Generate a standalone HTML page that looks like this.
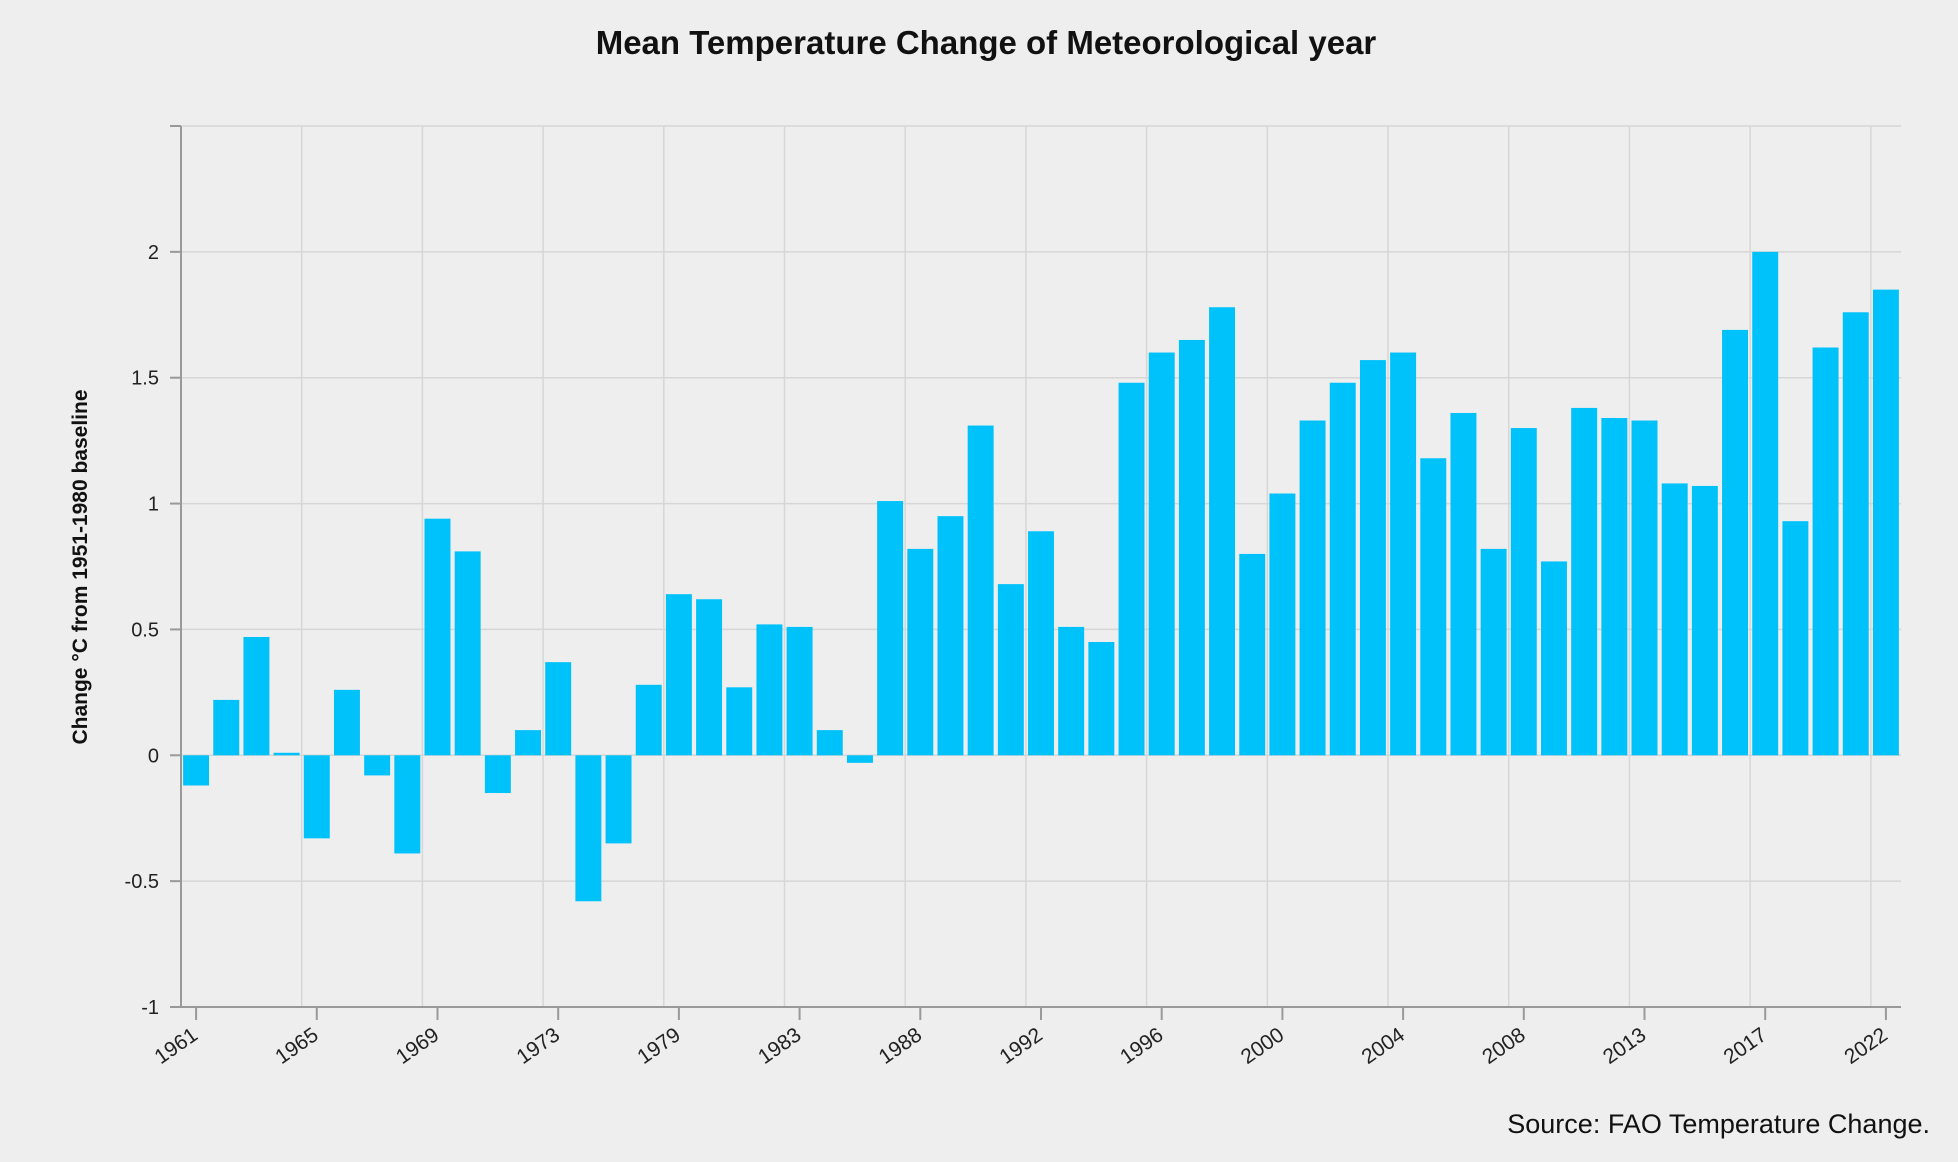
<!DOCTYPE html>
<html><head><meta charset="utf-8"><style>
body{margin:0;background:#eeeeee;}
svg{display:block;font-family:"Liberation Sans",sans-serif;}
</style></head><body>
<svg id="chart" width="1958" height="1162" viewBox="0 0 1958 1162">
<rect width="1958" height="1162" fill="#eeeeee"/>
<text x="986" y="54" text-anchor="middle" font-size="33" font-weight="bold" fill="#111">Mean Temperature Change of Meteorological year</text>
<text transform="translate(87,567) rotate(-90)" text-anchor="middle" font-size="21" font-weight="bold" fill="#111">Change °C from 1951-1980 baseline</text>
<text x="1930" y="1133" text-anchor="end" font-size="27" fill="#111">Source: FAO Temperature Change.</text>
<g id="grid"></g><g id="bars"></g><g id="axes"></g>
</svg>
<script>
const categories=["1961","1962","1963","1964","1965","1966","1967","1968","1969","1970","1971","1972","1973","1974","1975","1976","1979","1980","1981","1982","1983","1984","1985","1987","1988","1989","1990","1991","1992","1993","1994","1995","1996","1997","1998","1999","2000","2001","2002","2003","2004","2005","2006","2007","2008","2009","2010","2011","2013","2014","2015","2016","2017","2018","2019","2020","2022"];
const values=[-0.12,0.22,0.47,0.01,-0.33,0.26,-0.08,-0.39,0.94,0.81,-0.15,0.10,0.37,-0.58,-0.35,0.28,0.64,0.62,0.27,0.52,0.51,0.10,-0.03,1.01,0.82,0.95,1.31,0.68,0.89,0.51,0.45,1.48,1.60,1.65,1.78,0.80,1.04,1.33,1.48,1.57,1.60,1.18,1.36,0.82,1.30,0.77,1.38,1.34,1.33,1.08,1.07,1.69,2.00,0.93,1.62,1.76,1.85];
const yTicks=[-1,-0.5,0,0.5,1,1.5,2];
const xLabels=["1961","1965","1969","1973","1979","1983","1988","1992","1996","2000","2004","2008","2013","2017","2022"];
const NS="http://www.w3.org/2000/svg";
const X0=181,X1=1901,Y0=1007,Y1=126,VMIN=-1,VMAX=2.5;
const band=(X1-X0)/categories.length;
const y=v=>Y0-(v-VMIN)/(VMAX-VMIN)*(Y0-Y1);
const xc=i=>X0+band*(i+0.5);
function mk(tag,attrs,parent){const e=document.createElementNS(NS,tag);for(const k in attrs)e.setAttribute(k,attrs[k]);parent.appendChild(e);return e;}
const grid=document.getElementById('grid'),bars=document.getElementById('bars'),axes=document.getElementById('axes');
yTicks.concat([2.5]).forEach(v=>{if(v>VMIN){const l=mk('line',{x1:X0,x2:X1,y1:y(v),y2:y(v),stroke:'#d6d6d6','stroke-width':1.5},grid);

}});
xLabels.forEach(lb=>{const i=categories.indexOf(lb);if(i>0){const gx=X0+band*i;const l=mk('line',{x1:gx,x2:gx,y1:Y1,y2:Y0,stroke:'#d6d6d6','stroke-width':1.5},grid);

}});
values.forEach((v,i)=>{const w=band*0.86;const r=mk('rect',{x:xc(i)-w/2,y:Math.min(y(v),y(0)),width:w,height:Math.abs(y(v)-y(0)),fill:'#00c2fb'},bars);

});
let a=mk('line',{x1:X0,x2:X0,y1:Y1,y2:Y0,stroke:'#999','stroke-width':2},axes);


a=mk('line',{x1:X0-10,x2:X1,y1:Y0,y2:Y0,stroke:'#999','stroke-width':2},axes);


mk('line',{x1:X0-11,x2:X0,y1:Y1,y2:Y1,stroke:'#999','stroke-width':2},axes);
yTicks.forEach(v=>{mk('line',{x1:X0-11,x2:X0,y1:y(v),y2:y(v),stroke:'#999','stroke-width':2},axes);
const t=mk('text',{x:X0-22,y:y(v)+7,'text-anchor':'end','font-size':20,fill:'#222'},axes);t.textContent=v;

});
xLabels.forEach(lb=>{const i=categories.indexOf(lb);const cx=xc(i);
mk('line',{x1:cx,x2:cx,y1:Y0,y2:Y0+13,stroke:'#999','stroke-width':2},axes);
const t=mk('text',{x:cx+3,y:Y0+31,'text-anchor':'end','font-size':21,fill:'#222',transform:`rotate(-35 ${cx+3} ${Y0+31})`},axes);t.textContent=lb;

});
</script>
</body></html>
